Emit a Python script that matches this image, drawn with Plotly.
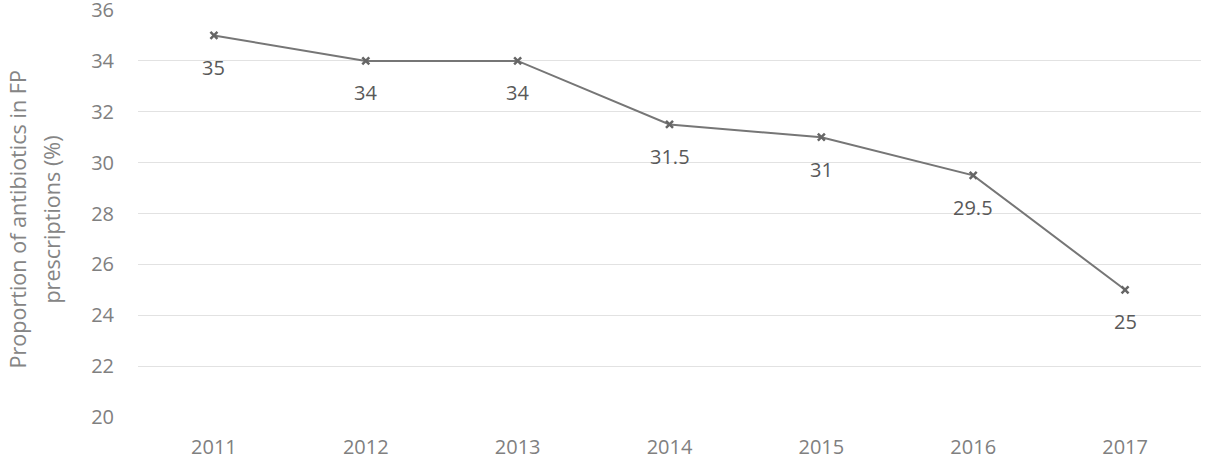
import plotly.graph_objects as go

years = ["2011", "2012", "2013", "2014", "2015", "2016", "2017"]
values = [35, 34, 34, 31.5, 31, 29.5, 25]
labels = ["35", "34", "34", "31.5", "31", "29.5", "25"]
y_ticks = [20, 22, 24, 26, 28, 30, 32, 34, 36]
title_lines = ["Proportion of antibiotics in FP", "prescriptions (%)"]

FONT = "Open Sans, Lato, sans-serif"

fig = go.Figure()
fig.add_trace(go.Scatter(
    x=years, y=values, mode="lines+markers",
    line=dict(color="#767676", width=2),
    marker=dict(symbol="x-thin", size=7, color="#666666",
                line=dict(color="#666666", width=2.5)),
    cliponaxis=False, showlegend=False,
))

for i, (v, lab) in enumerate(zip(values, labels)):
    fig.add_annotation(
        x=i, y=v, xref="x", yref="y", text=lab, showarrow=False,
        yshift=-32, xanchor="center", yanchor="middle",
        font=dict(family=FONT, size=20, color="#595959"),
    )

# y-axis title as two rotated lines
for line, px in zip(title_lines, [18, 52]):
    fig.add_annotation(
        x=(px - 138) / (1210 - 138 - 9), xref="paper",
        y=0.485, yref="paper", text=line, showarrow=False,
        textangle=-90, xanchor="center", yanchor="middle",
        font=dict(family=FONT, size=21.6, color="#858585"),
    )

fig.update_layout(
    width=1210, height=468,
    margin=dict(l=138, r=9, t=10, b=51),
    paper_bgcolor="white", plot_bgcolor="white",
    font=dict(family=FONT, color="#808080"),
)
fig.update_xaxes(
    type="category", showgrid=False, showline=False, ticks="",
    tickfont=dict(size=20, color="#808080"),
    range=[-0.5, 6.5], automargin=False, ticklabelstandoff=16,
    ticklabeloverflow="allow",
)
fig.update_yaxes(
    range=[20, 36], tickvals=y_ticks, showgrid=True, gridcolor="#e2e2e2",
    gridwidth=1, zeroline=False, showline=False, ticks="",
    tickfont=dict(size=20, color="#808080"),
    ticklabelstandoff=23, automargin=False, ticklabeloverflow="allow",
)

fig.write_html("out.html")
